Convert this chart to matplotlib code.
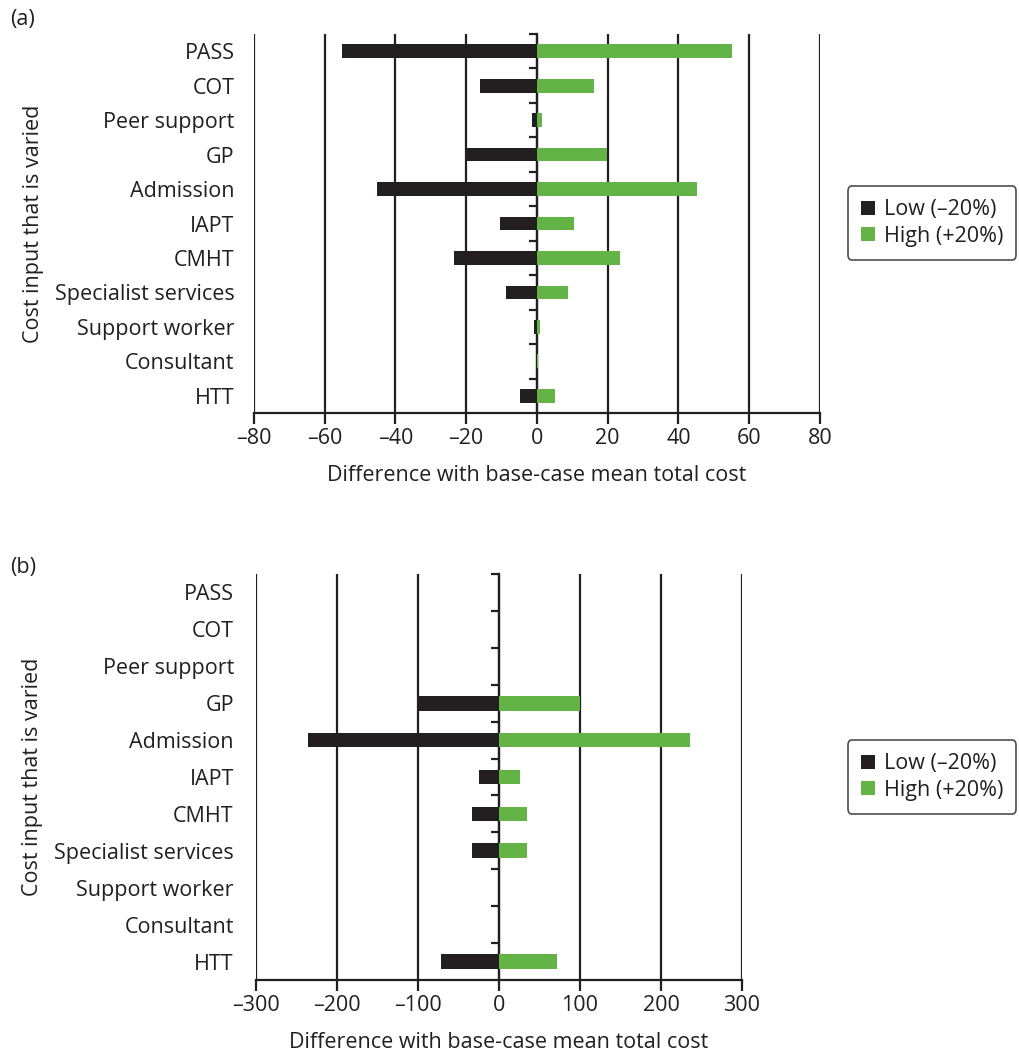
import matplotlib
matplotlib.use("Agg")
import matplotlib.pyplot as plt
import numpy as np

categories = ["PASS", "COT", "Peer support", "GP", "Admission", "IAPT", "CMHT",
              "Specialist services", "Support worker", "Consultant", "HTT"]

# Panel (a)
a_low = [-55.0, -16.0, -1.5, -19.8, -45.2, -10.6, -23.4, -8.8, -0.9, -0.4, -4.9]
a_high = [55.1, 16.1, 1.4, 19.9, 45.3, 10.4, 23.6, 8.7, 0.8, 0.3, 5.1]
a_ticks = [-80, -60, -40, -20, 0, 20, 40, 60, 80]

# Panel (b)
b_low = [0, 0, 0, -100.3, -235.5, -25.0, -33.5, -33.5, 0, 0, -71.8]
b_high = [0, 0, 0, 100.5, 236.0, 26.5, 34.0, 34.0, 0, 0, 72.0]
b_ticks = [-300, -200, -100, 0, 100, 200, 300]

series_labels = ["Low (\u201320%)", "High (+20%)"]
xlabel = "Difference with base-case mean total cost"
ylabel = "Cost input that is varied"

DARK = "#231f20"
GREEN = "#63b347"
FONT = "Open Sans"
FS = 15.5

plt.rcParams["font.family"] = [FONT, "DejaVu Sans"]
plt.rcParams["text.color"] = DARK
plt.rcParams["xtick.labelcolor"] = DARK
plt.rcParams["ytick.labelcolor"] = DARK
plt.rcParams["axes.labelcolor"] = DARK

fig = plt.figure(figsize=(10.2, 10.52), dpi=100)


def panel(rect, low, high, ticks, label_pad, tag, tag_y, legend_y):
    ax = fig.add_axes(rect)
    n = len(categories)
    y = np.arange(n)[::-1]
    ax.set_xlim(ticks[0], ticks[-1])
    ax.set_ylim(-0.5, n - 0.5)
    for t in ticks:
        ax.axvline(t, color=DARK, lw=1.6, zorder=1)
    ax.barh(y, low, height=0.4, color=DARK, label=series_labels[0], zorder=2)
    ax.barh(y, high, height=0.4, color=GREEN, label=series_labels[1], zorder=2)
    ax.set_yticks(y)
    ax.set_yticklabels(categories, fontsize=FS)
    ax.tick_params(axis="y", length=0, pad=label_pad)
    ax.set_xticks(ticks)
    ax.set_xticklabels([f"{t}".replace("-", "\u2013") for t in ticks], fontsize=FS)
    ax.tick_params(axis="x", length=8, width=1.6, color=DARK, pad=3)
    for s in ["top", "right", "left"]:
        ax.spines[s].set_visible(False)
    ax.spines["bottom"].set_color(DARK)
    ax.spines["bottom"].set_linewidth(1.6)
    ax.set_xlabel(xlabel, fontsize=FS, labelpad=11)
    ax.set_ylabel(ylabel, fontsize=FS, labelpad=8)
    # category boundary ticks on the zero line
    zero_frac = (0 - ticks[0]) / (ticks[-1] - ticks[0])
    sec = ax.secondary_yaxis(zero_frac)
    sec.yaxis.set_ticks_position("left")
    sec.set_yticks(np.arange(n) + 0.5)
    sec.set_yticklabels([])
    sec.tick_params(axis="y", length=6, width=1.6, color=DARK, direction="out")
    for s in sec.spines.values():
        s.set_visible(False)
    sec.spines["left"].set_visible(True)
    sec.spines["left"].set_color(DARK)
    sec.spines["left"].set_linewidth(1.6)
    fig.text(0.01, tag_y, tag, fontsize=FS, ha="left", va="center")
    leg = ax.legend(loc="center left", bbox_to_anchor=(848 / 1020, legend_y),
                    bbox_transform=fig.transFigure, fontsize=FS, frameon=True,
                    fancybox=True, edgecolor=DARK, handlelength=0.65,
                    handleheight=0.65, handletextpad=0.4, borderpad=0.6,
                    labelspacing=0.25, borderaxespad=0)
    leg.get_frame().set_linewidth(1.2)
    return ax


panel([254 / 1020, 1 - 413 / 1052, 566 / 1020, 379 / 1052], a_low, a_high, a_ticks,
      14, "(a)", 1 - 20 / 1052, 1 - 223 / 1052)
panel([256 / 1020, 1 - 980 / 1052, 486 / 1020, 406 / 1052], b_low, b_high, b_ticks,
      16, "(b)", 1 - 567 / 1052, 1 - 777 / 1052)

fig.savefig("out.png", dpi=100)
